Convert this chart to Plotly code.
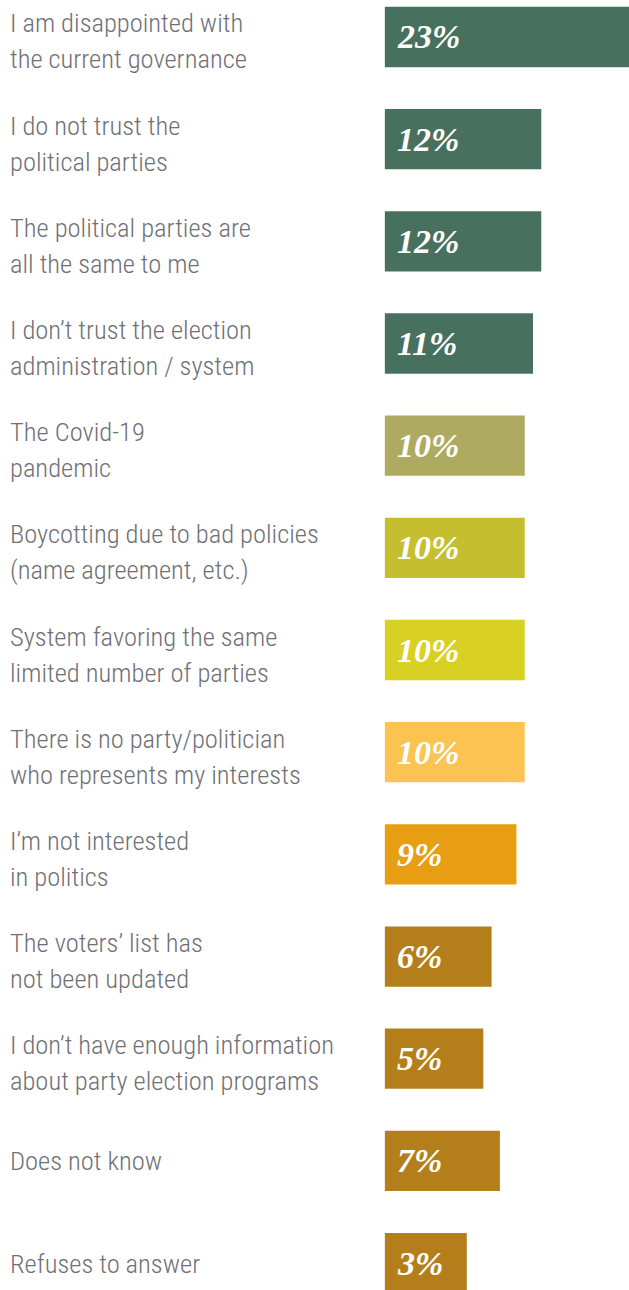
import plotly.graph_objects as go

labels = [
    "I am disappointed with<br>the current governance",
    "I do not trust the<br>political parties",
    "The political parties are<br>all the same to me",
    "I don’t trust the election<br>administration / system",
    "The Covid-19<br>pandemic",
    "Boycotting due to bad policies<br>(name agreement, etc.)",
    "System favoring the same<br>limited number of parties",
    "There is no party/politician<br>who represents my interests",
    "I’m not interested<br>in politics",
    "The voters’ list has<br>not been updated",
    "I don’t have enough information<br>about party election programs",
    "Does not know",
    "Refuses to answer",
]
values = [23, 12, 12, 11, 10, 10, 10, 10, 9, 6, 5, 7, 3]
value_text = ["23%", "12%", "12%", "11%", "10%", "10%", "10%", "10%", "9%", "6%", "5%", "7%", "3%"]
colors = ["#48705F", "#48705F", "#48705F", "#48705F", "#AEAA60", "#C5BF30",
          "#D9D024", "#FAC352", "#E79E12", "#B47F1B", "#B47F1B", "#B47F1B", "#B47F1B"]

BASE = -6.9
idx = list(range(len(labels)))

fig = go.Figure()
fig.add_trace(go.Bar(
    y=idx, x=[v - BASE for v in values], base=BASE, orientation="h",
    marker=dict(color=colors, line=dict(width=0)),
    width=0.59, hoverinfo="skip",
))

LABEL_FONT = dict(family="Roboto Condensed, Roboto, DejaVu Sans Condensed, sans-serif",
                  size=26.5, color="#6F7075", weight=300)
LINE_GAP = 36
for i, (lab, vt) in enumerate(zip(labels, value_text)):
    lines = lab.split("<br>")
    n = len(lines)
    for j, line in enumerate(lines):
        off = (j - (n - 1) / 2) * LINE_GAP
        fig.add_annotation(x=0, xref="paper", y=i, yref="y", text=line, showarrow=False,
                           xanchor="left", yanchor="middle", align="left", xshift=8,
                           yshift=-off + (-4 if n > 1 else 0), font=LABEL_FONT)
    fig.add_annotation(x=BASE, xref="x", y=i, yref="y", text="<i>" + vt + "</i>",
                       showarrow=False, xanchor="left", yanchor="middle", xshift=10,
                       font=dict(family="Liberation Serif, serif", size=34, color="white",
                                 weight=600))

fig.update_layout(
    width=629, height=1290, margin=dict(l=0, r=0, t=0, b=0),
    paper_bgcolor="white", plot_bgcolor="white", showlegend=False,
    xaxis=dict(range=[-53.4, 22.6], visible=False, fixedrange=True),
    yaxis=dict(range=[12.264, -0.362], visible=False, fixedrange=True),
)
fig.write_html("out.html")
